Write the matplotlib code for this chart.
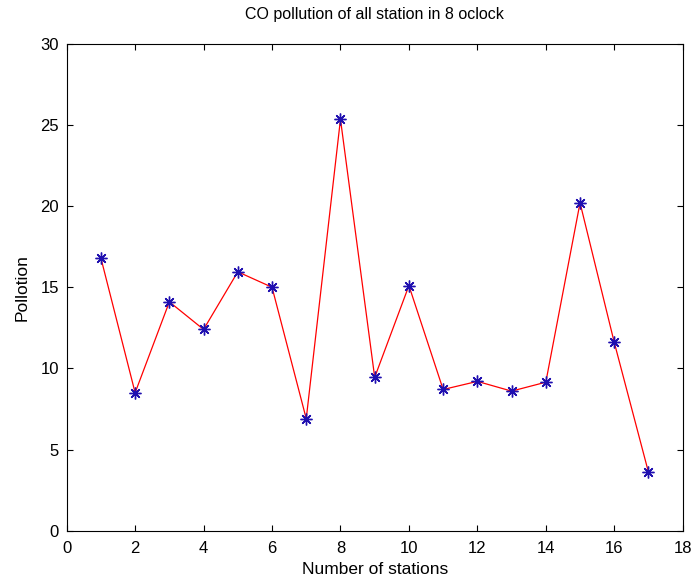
import numpy as np
from matplotlib import pyplot as plt

plt.rcParams["font.family"] = ["Liberation Sans", "DejaVu Sans"]
plt.rcParams["font.size"] = 12

stations = np.arange(1, 18)
pollution = [16.8, 8.5, 14.1, 12.4, 15.95, 15.0, 6.9, 25.35, 9.45, 15.1,
             8.7, 9.2, 8.6, 9.15, 20.2, 11.6, 3.6]

fig = plt.figure(figsize=(6.91, 5.79), dpi=100)
ax = fig.add_axes([0.0965, 0.0834, 0.8915, 0.841])

ax.plot(stations, pollution, "r-", linewidth=0.9)
ax.plot(stations, pollution, linestyle="none", marker=(8, 2, 0),
        color="#2010b0", markersize=8.5, markeredgewidth=1.0)

ax.set_xlim(0, 18)
ax.set_ylim(0, 30)
ax.set_xticks(range(0, 19, 2))
ax.set_yticks(range(0, 31, 5))
ax.tick_params(direction="in", top=True, right=True, length=4.5, width=0.8)
ax.tick_params(axis="x", pad=7.5)
ax.tick_params(axis="y", pad=5.5)
for s in ax.spines.values():
    s.set_linewidth(0.8)

ax.set_title("CO pollution of all station in 8 oclock", fontsize=11.5, pad=18)
ax.set_xlabel("Number of stations", fontsize=12.5, labelpad=4)
ax.set_ylabel("Pollotion", fontsize=12.5, labelpad=8)

fig.savefig("out.png", dpi=100)
